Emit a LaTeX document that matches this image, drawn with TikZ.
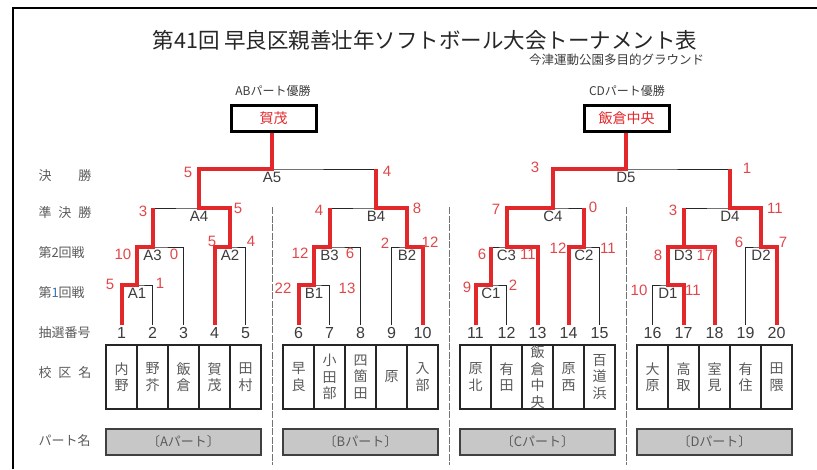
\documentclass[tikz,border=0pt]{standalone}
\usepackage{fontspec}
\setmainfont{Liberation Sans}
\newfontfamily\jp{Noto Sans CJK JP}
\usetikzlibrary{calc}
\definecolor{winred}{HTML}{E3282C}
\definecolor{scorered}{HTML}{E0474B}
\definecolor{ink}{HTML}{3C3C3C}
\definecolor{labgray}{HTML}{5A5A5A}
\definecolor{roundblue}{HTML}{3D6FB4}
\tikzset{every path/.style={line width=1pt}}
\tikzset{
  lose/.style={draw=black!85,line width=1pt},
  win/.style={draw=winred,line width=4pt},
  score/.style={text=scorered,inner sep=0pt,font=\fontsize{15}{15}\selectfont},
  match/.style={text=ink,inner sep=0pt,font=\fontsize{15}{15}\selectfont},
  num/.style={text=ink,inner sep=0pt,font=\fontsize{16}{16}\selectfont},
  rowlabel/.style={anchor=west,text=labgray,inner sep=0pt,font=\jp\fontsize{13}{13}\selectfont},
  cell/.style={draw=black!85,line width=1.3pt,minimum width=31pt,minimum height=64pt,inner sep=0pt,align=center,text=labgray,font=\jp\fontsize{14}{16.5}\selectfont},
  partbox/.style={draw=black!75,fill=black!22,line width=1.5pt,minimum width=155pt,minimum height=26pt,text=labgray,font=\jp\fontsize{13}{13}\selectfont},
  winbox/.style={draw=black,line width=3pt,minimum width=85pt,minimum height=26pt,text=winred,font=\jp\fontsize{14}{14}\selectfont},
  sep/.style={draw=black!55,dash pattern=on 7pt off 1.5pt,line width=1pt}
}

\begin{document}
\begin{tikzpicture}[x=1pt,y=-1pt]
\useasboundingbox (0,0) rectangle (817,469);
\draw[line width=2pt] (13,469) -- (13,8) -- (817,8);

\node[font=\jp\fontsize{21.5}{21.5}\selectfont,text=black!85] (title) at (425,40) {第41回 早良区親善壮年ソフトボール大会トーナメント表};
\node[anchor=east,font=\jp\fontsize{12.5}{12.5}\selectfont,text=ink] (place) at (708,60) {今津運動公園多目的グラウンド};

\node[font=\jp\fontsize{12}{12}\selectfont,text=ink] (ABtitle) at (273,91) {ABパート優勝};
\node[winbox] (ABwin) at (273.5,118) {賀茂};
\node[font=\jp\fontsize{12}{12}\selectfont,text=ink] (CDtitle) at (627,91) {CDパート優勝};
\node[winbox] (CDwin) at (626.5,118) {飯倉中央};

\node[rowlabel] (final) at (38,176) {決\hspace{27pt}勝};
\node[rowlabel] (semi) at (38,213) {準\hspace{7pt}決\hspace{7pt}勝};
\node[rowlabel] (second) at (38,253) {第2回戦};
\node[rowlabel] (first) at (38,293) {第{\color{roundblue}1}回戦};
\node[rowlabel] (draw) at (38,333) {抽選番号};
\node[rowlabel] (school) at (38,373) {校\hspace{7pt}区\hspace{7pt}名};
\node[rowlabel] (part) at (38,441) {パート名};

\draw[sep] (272,207) -- (272,465);
\draw[sep] (449,207) -- (449,465);
\draw[sep] (626,207) -- (626,465);

\foreach \i/\nm in {1/内\\野,2/野\\芥,3/飯\\倉,4/賀\\茂,5/田\\村,6/早\\良,7/小\\田\\部,8/四\\箇\\田,9/原,10/入\\部,11/原\\北,12/有\\田,13/飯\\倉\\中\\央,14/原\\西,15/百\\道\\浜,16/大\\原,17/高\\取,18/室\\見,19/有\\住,20/田\\隈}{
  \pgfmathsetmacro\xx{121.5+177*int((\i-1)/5)+31*mod(\i-1,5)}
  \node[cell] (c\i) at (\xx,377) {\nm};
  \node[num] (n\i) at (\xx,333) {\i};
  \coordinate (t\i) at (\xx,325);
}

\node[partbox] (pA) at (183.5,442) {〔Aパート〕};
\node[partbox] (pB) at (360.5,442) {〔Bパート〕};
\node[partbox] (pC) at (537.5,442) {〔Cパート〕};
\node[partbox] (pD) at (714.5,442) {〔Dパート〕};

\foreach \p/\b in {A/121.5,B/298.5,C/475.5,D/652.5}{
  \coordinate (\p1) at ({\b+15.5},285);
  \coordinate (\p3) at ({\b+31},247);
  \coordinate (\p2) at ({\b+108.5},247);
  \coordinate (\p4) at ({\b+77.5},208);
}
\coordinate (A5) at (272,169);
\coordinate (D5) at (626,169);

\foreach \p/\k in {A/0,B/5,C/10,D/15}{
  \pgfmathtruncatemacro\ta{\k+1}
  \pgfmathtruncatemacro\tb{\k+2}
  \pgfmathtruncatemacro\tc{\k+3}
  \pgfmathtruncatemacro\td{\k+4}
  \pgfmathtruncatemacro\te{\k+5}
  \draw[lose] (t\ta) |- (\p1) -| (t\tb);
  \draw[lose] (\p1) |- (\p3) -| (t\tc);
  \draw[lose] (t\td) |- (\p2) -| (t\te);
  \draw[lose] (\p3) |- (\p4) -| (\p2);
}
\draw[lose] (A4) |- (A5) -| (B4);
\draw[lose] (C4) |- (D5) -| (D4);

\draw[win] (t1) |- (A1) |- (A3) -- (A3 |- A4);
\draw[win] (t4) |- (A2) |- (A4) |- (A5) -- (A5 |- ABwin.south);
\draw[win] (t6) |- (B1) |- (B3) -- (B3 |- B4);
\draw[win] (t10) |- (B2) |- (B4) -- (B4 |- A5);
\draw[win] (t11) |- (C1) -- (C1 |- C3);
\draw[win] (t13) |- (C3) |- (C4) |- (D5) -- (D5 |- CDwin.south);
\draw[win] (t14) |- (C2) -- (C2 |- C4);
\draw[win] (t17) |- (D1) |- (D3) -- (D3 |- D4);
\draw[win] (t18) |- (D3);
\draw[win] (t20) |- (D2) |- (D4) -- (D4 |- D5);

\foreach \m in {A1,A2,A3,A4,A5,B1,B2,B3,B4,C1,C2,C3,C4,D1,D2,D3,D4,D5}
  \node[match,below=3pt] (m\m) at (\m) {\m};

\node[score] (sA1a) at (110,284) {5};
\node[score] (sA1b) at (160,283) {1};
\node[score] (sA3a) at (123,254) {10};
\node[score] (sA3b) at (174,254) {0};
\node[score] (sA2a) at (212,241) {5};
\node[score] (sA2b) at (251,241) {4};
\node[score] (sA4a) at (143,211) {3};
\node[score] (sA4b) at (238,208) {5};
\node[score] (sA5a) at (188,172) {5};
\node[score] (sA5b) at (387,171) {4};
\node[score] (sB1a) at (283,288) {22};
\node[score] (sB1b) at (347,288) {13};
\node[score] (sB3a) at (300,253) {12};
\node[score] (sB3b) at (350,253) {6};
\node[score] (sB2a) at (385,243) {2};
\node[score] (sB2b) at (430,242) {12};
\node[score] (sB4a) at (319,210) {4};
\node[score] (sB4b) at (417,208) {8};
\node[score] (sC1a) at (467,287) {9};
\node[score] (sC1b) at (513,285) {2};
\node[score] (sC3a) at (482,254) {6};
\node[score] (sC3b) at (528,254) {11};
\node[score] (sC2a) at (558,248) {12};
\node[score] (sC2b) at (608,248) {11};
\node[score] (sC4a) at (496,209) {7};
\node[score] (sC4b) at (593,207) {0};
\node[score] (sD5a) at (535,167) {3};
\node[score] (sD5b) at (747,168) {1};
\node[score] (sD1a) at (639,290) {10};
\node[score] (sD1b) at (693,290) {11};
\node[score] (sD3a) at (658,255) {8};
\node[score] (sD3b) at (705,255) {17};
\node[score] (sD2a) at (739,242) {6};
\node[score] (sD2b) at (783,242) {7};
\node[score] (sD4a) at (673,210) {3};
\node[score] (sD4b) at (775,208) {11};
\end{tikzpicture}
\end{document}
